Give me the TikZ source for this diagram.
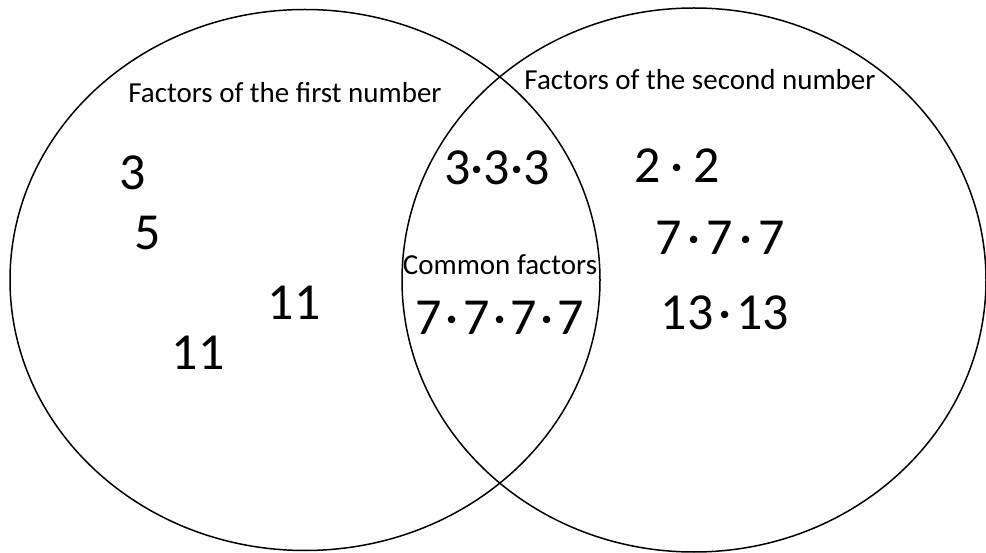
\documentclass[tikz,border=0pt]{standalone}
\usepackage{fontspec}
\setmainfont{Carlito}
\usetikzlibrary{shapes.geometric, positioning}

\newcommand{\gap}[1]{\hspace{#1pt}·\hspace{#1pt}}

\begin{document}
\begin{tikzpicture}[
  x=1pt, y=-1pt,
  font=\fontsize{29}{34}\selectfont,
  setring/.style={ellipse, draw=black, line width=1.5pt, inner sep=0pt},
  heading/.style={inner sep=0pt, anchor=base},
  hand/.style={inner sep=0pt, anchor=base, font=\fontsize{52}{56}\selectfont}
]
  \useasboundingbox (0,0) rectangle (986,553);

  % the two sets
  \node[setring, minimum width=590pt, minimum height=541pt] (first) at (305,280) {};
  \node[setring, minimum width=584pt, minimum height=544pt] (second) at (694,280) {};

  % headings
  \node[heading] (hfirst) at (285,103) {Factors of the first number};
  \node[heading] (hsecond) at (700,90) {Factors of the second number};
  \node[heading] (hcommon) at (500,275) {Common factors};

  % first number only
  \node[hand] (n3) at (133,190) {3};
  \node[hand] (n5) at (148,250) {5};
  \node[hand] (n11a) at (294,320) {11};
  \node[hand] (n11b) at (198,370) {11};

  % both numbers
  \node[hand] (c333) at (497,185) {3·3·3};
  \node[hand] (c7777) at (500,335) {7\gap{4}7\gap{4}7\gap{4}7};

  % second number only
  \node[hand] (s22) at (677,183) {2\gap{10}2};
  \node[hand] (s777) at (720,255) {7\gap{6}7\gap{6}7};
  \node[hand] (s1313) at (725,330) {13\gap{5}13};
\end{tikzpicture}
\end{document}
